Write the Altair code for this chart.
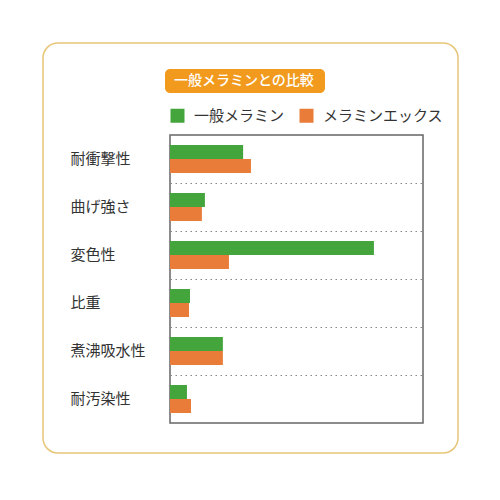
import altair as alt
import pandas as pd

title_text = "一般メラミンとの比較"
categories = ["耐衝撃性", "曲げ強さ", "変色性", "比重", "煮沸吸水性", "耐汚染性"]
series = ["一般メラミン", "メラミンエックス"]
general = [28.9, 13.8, 80.6, 7.9, 20.9, 6.7]
melamine_x = [32.0, 12.6, 23.3, 7.5, 20.9, 8.3]
colors = ["#43A53B", "#E97C38"]

rows = []
for c, g, m in zip(categories, general, melamine_x):
    rows.append({"cat": c, "series": series[0], "val": g})
    rows.append({"cat": c, "series": series[1], "val": m})
df = pd.DataFrame(rows)

FONT = "Noto Sans CJK JP"

bars = alt.Chart(df).mark_bar().encode(
    x=alt.X("val:Q", scale=alt.Scale(domain=[0, 100], nice=False), axis=None),
    y=alt.Y("cat:N", sort=categories,
            scale=alt.Scale(domain=categories, paddingInner=0, paddingOuter=0),
            axis=alt.Axis(title=None, ticks=False, domain=False, grid=True,
                          gridDash=[1.5, 3.5], gridColor="#888", gridWidth=1.2,
                          bandPosition=0, labelAlign="left",
                          labelPadding=100, labelFontSize=15, labelColor="#333",
                          labelFont=FONT)),
    yOffset=alt.YOffset("series:N", sort=series,
                        scale=alt.Scale(domain=series, paddingInner=0, paddingOuter=0.714)),
    color=alt.Color("series:N", sort=series,
                    scale=alt.Scale(domain=series, range=colors),
                    legend=alt.Legend(title=None, orient="none", legendX=0, legendY=-27,
                                      direction="horizontal", symbolType="square",
                                      symbolSize=196, symbolStrokeWidth=0, symbolOpacity=1,
                                      labelFontSize=15, labelFont=FONT, labelColor="#333",
                                      labelOffset=9, columnPadding=14)),
)

deco = pd.DataFrame({"t": [title_text]})

outer = alt.Chart(deco).mark_rect(fill=None, stroke="#E6C578", strokeWidth=1.5,
                                  cornerRadius=15, clip=False).encode(
    x=alt.value(-127), x2=alt.value(288), y=alt.value(-92), y2=alt.value(318)
)

badge = alt.Chart(deco).mark_rect(fill="#F19A1E", cornerRadius=5, clip=False).encode(
    x=alt.value(-5), x2=alt.value(155), y=alt.value(-66), y2=alt.value(-42)
)

badge_text = alt.Chart(deco).mark_text(align="left", baseline="middle", color="white",
                                       fontSize=14, font=FONT, fontWeight=500, clip=False).encode(
    x=alt.value(4), y=alt.value(-54), text="t:N"
)

chart = alt.layer(outer, badge, badge_text, bars).resolve_scale(x="independent").properties(
    width=253, height=288,
    background="white",
    autosize=alt.AutoSizeParams(type="none"),
    padding={"left": 162, "top": 127, "right": 69, "bottom": 69},
).configure_view(stroke="#666", strokeWidth=1.5)

chart.save("out.html", embed_options={"renderer": "svg", "actions": False})
